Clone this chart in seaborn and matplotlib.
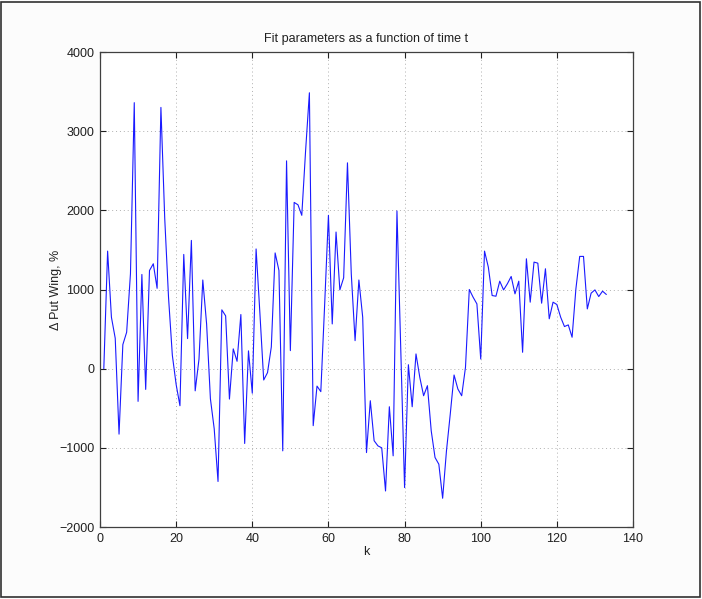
import matplotlib
matplotlib.use("Agg")
import matplotlib.pyplot as plt
import seaborn as sns
import pandas as pd
import numpy as np
from matplotlib.patches import Rectangle

k_values = list(range(1, 134))
put_wing = [
    0, 1485, 650, 384, -827, 304, 460, 1200, 3360, -413,
    1190, -262, 1240, 1325, 1015, 3300, 1900, 900, 170, -200,
    -468, 1443, 380, 1620, -280, 120, 1120, 565, -380, -760,
    -1425, 743, 667, -384, 250, 93, 684, -945, 225, -310,
    1512, 700, -143, -50, 275, 1462, 1240, -1038, 2625, 228,
    2100, 2070, 1937, 2750, 3485, -720, -220, -290, 800, 1937,
    565, 1726, 995, 1148, 2600, 1200, 354, 1120, 650, -1060,
    -405, -910, -975, -1000, -1545, -481, -1101, 1992, 250, -1502,
    50, -481, 186, -110, -342, -215, -785, -1122, -1207, -1637,
    -1040, -574, -80, -257, -342, 17, 1000, 903, 818, 122,
    1485, 1283, 924, 915, 1105, 995, 1072, 1165, 945, 1105,
    207, 1388, 840, 1346, 1333, 827, 1262, 630, 840, 810,
    650, 532, 553, 397, 1008, 1418, 1418, 755, 954, 995,
    911, 979, 937,
]
x_ticks = [0, 20, 40, 60, 80, 100, 120, 140]
y_ticks = [-2000, -1000, 0, 1000, 2000, 3000, 4000]
title = "Fit parameters as a function of time t"
x_label = "k"
y_label = "\u0394 Put Wing, %"

df = pd.DataFrame({"k": k_values, "val": put_wing})

sns.set_style("ticks")
plt.rcParams["font.family"] = ["Liberation Sans", "DejaVu Sans"]
plt.rcParams["axes.unicode_minus"] = True

fig = plt.figure(figsize=(7.02, 5.99), dpi=100)
fig.patch.set_facecolor("#fcfcfc")
ax = fig.add_axes([100/702, 1-527/599, 533/702, 475/599])
ax.set_facecolor("white")

sns.lineplot(data=df, x="k", y="val", ax=ax, color="#1a1aff", linewidth=0.8)

ax.set_xlim(0, 140)
ax.set_ylim(-2000, 4000)
ax.set_xticks(x_ticks)
ax.set_yticks(y_ticks)
ax.set_xticklabels([str(t) for t in x_ticks])
ax.set_yticklabels([str(t).replace("-", "\u2212") for t in y_ticks])
ax.grid(True, linestyle=(0, (1, 3)), color="#b0b0b0", linewidth=0.7)
ax.tick_params(direction="in", length=4, width=0.8, top=True, right=True,
               labelsize=9, colors="#202020", pad=4)
for s in ax.spines.values():
    s.set_visible(True)
    s.set_color("#404040")
    s.set_linewidth(0.9)

ax.set_title(title, fontsize=9, pad=7, color="#202020")
ax.set_xlabel(x_label, fontsize=9, labelpad=1, color="#202020")
ax.set_ylabel(y_label, fontsize=9, color="#202020")
ax.yaxis.set_label_coords(-0.071, 0.5)

fig.patches.append(Rectangle((0.002, 0.003), 0.995, 0.994, transform=fig.transFigure,
                             fill=False, edgecolor="#303030", linewidth=1.2))

fig.savefig("out.png", dpi=100, facecolor=fig.get_facecolor())
